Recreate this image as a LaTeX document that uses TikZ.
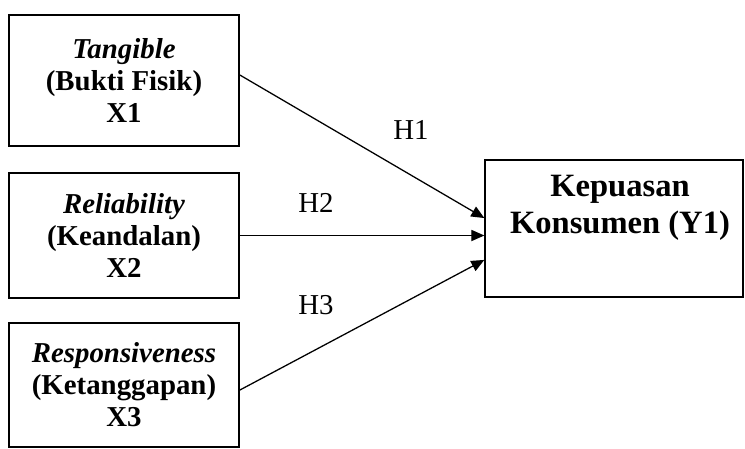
\documentclass[tikz,border=0pt]{standalone}
\usepackage{fontspec}
\setmainfont{Liberation Serif}
\usetikzlibrary{positioning, arrows.meta}

\begin{document}
\begin{tikzpicture}[
    x=0.43pt, y=-0.43pt,
    varbox/.style={rectangle, draw, line width=0.6pt, minimum width=98.9pt, align=center, inner sep=0pt, font=\fontsize{12.4}{13.8}\selectfont\bfseries},
    hyp/.style={line width=0.55pt, -{Triangle[length=5.6pt, width=4.8pt]}},
    hlabel/.style={font=\fontsize{12.4}{13.8}\selectfont}
]
  \useasboundingbox (0,0) rectangle (745,448);

  % 定义变量框位置
  \node[varbox, minimum height=56.3pt] (x1) at (124,80.5) {\textit{Tangible}\\(Bukti Fisik)\\X1};
  \node[varbox, minimum height=53.8pt] (x2) at (124,235.5) {\textit{Reliability}\\(Keandalan)\\X2};
  \node[varbox, minimum height=53.3pt] (x3) at (124,385) {\textit{Responsiveness}\\(Ketanggapan)\\X3};
  \node[varbox, minimum width=110.9pt, minimum height=58.9pt] (y1) at (614,228.5) {};
  \node[align=center, inner sep=0pt, font=\fontsize{14}{16}\selectfont\bfseries] (y1text) at (620,208) {Kepuasan\\Konsumen (Y1)};

  % 绘制箭头并添加标签
  \draw[hyp] ([yshift=2.4pt]x1.east) -- ([yshift=4.5pt]y1.west);
  \draw[hyp] (x2.east) -- (x2.east -| y1.west);
  \draw[hyp] ([yshift=-2.2pt]x3.east) -- ([yshift=-13.5pt]y1.west);
  \node[hlabel] (h1) at (411,130) {H1};
  \node[hlabel] (h2) at (316,203) {H2};
  \node[hlabel] (h3) at (316,305) {H3};
\end{tikzpicture}
\end{document}
